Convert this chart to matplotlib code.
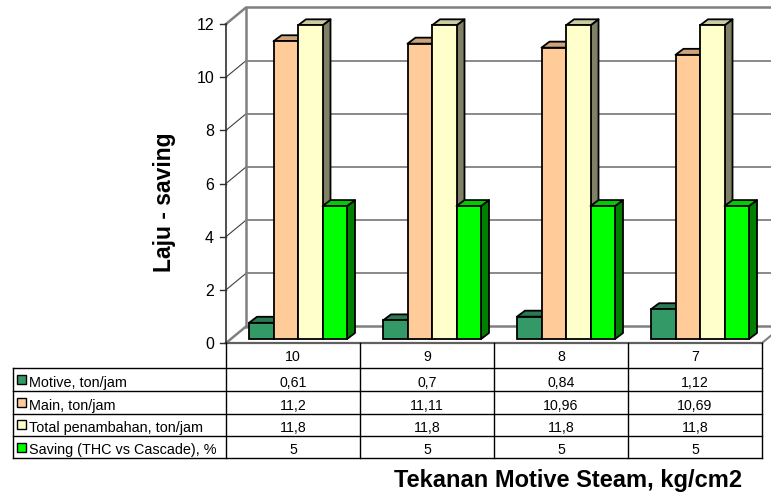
import matplotlib
matplotlib.use("Agg")
import matplotlib.pyplot as plt
from matplotlib.patches import Polygon, Rectangle
from matplotlib.lines import Line2D

plt.rcParams['font.family'] = ['Liberation Sans', 'DejaVu Sans']

# ---- data ----
categories = ["10", "9", "8", "7"]
series_names = ["Motive, ton/jam", "Main, ton/jam",
                "Total penambahan, ton/jam", "Saving (THC vs Cascade), %"]
motive = [0.61, 0.7, 0.84, 1.12]
main = [11.2, 11.11, 10.96, 10.69]
total = [11.8, 11.8, 11.8, 11.8]
saving = [5, 5, 5, 5]
y_ticks = [0, 2, 4, 6, 8, 10, 12]

series = [motive, main, total, saving]
front_colors = ["#339966", "#FFCC99", "#FFFFCC", "#00FF00"]
top_colors = ["#297A52", "#CCA37A", "#CCCCA3", "#00CC00"]
side_colors = ["#1A4D33", "#80664D", "#808066", "#008000"]

W, H = 771, 492
fig = plt.figure(figsize=(W / 100, H / 100), dpi=100)
fig.patch.set_facecolor("white")

def fx(x):
    return x / W

def fy(y):
    return 1 - y / H

# plot region (front plane)
X0, X1, Y0, Y12 = 226, 762, 343, 24
ax = fig.add_axes([fx(X0), fy(Y0), (X1 - X0) / W, (Y0 - Y12) / H])
ncat = len(categories)
ymax = y_ticks[-1]
ax.set_xlim(0, ncat)
ax.set_ylim(0, ymax)
ax.axis("off")

PX = ncat / (X1 - X0)
PY = ymax / (Y0 - Y12)

# depth of walls / bars in pixels converted to data units
WDX, WDY = 20 * PX, 16.5 * PY
BSX, BSY = 5 * PX, 4 * PY
BDX, BDY = 8 * PX, 6 * PY
BW = 24.5 * PX

wall_gray = "#808080"
# walls and floor
ax.add_patch(Polygon([(WDX, WDY), (ncat + WDX, WDY), (ncat + WDX, ymax + WDY), (WDX, ymax + WDY)],
                     closed=True, facecolor="white", edgecolor="none", clip_on=False, zorder=1))
ax.add_patch(Polygon([(0, 0), (WDX, WDY), (WDX, ymax + WDY), (0, ymax)],
                     closed=True, facecolor="white", edgecolor="none", clip_on=False, zorder=1))

for v in y_ticks[1:-1]:
    ax.plot([0, WDX], [v, v + WDY], color="#404040", lw=0.8, clip_on=False, zorder=2)
    ax.plot([WDX, ncat + WDX], [v + WDY, v + WDY], color=wall_gray, lw=1.3, clip_on=False, zorder=2)

# wall borders
ax.plot([0, WDX, ncat + WDX], [ymax, ymax + WDY, ymax + WDY], color=wall_gray, lw=1.8,
        clip_on=False, zorder=2)
ax.plot([WDX, WDX], [WDY, ymax + WDY], color=wall_gray, lw=1.8, clip_on=False, zorder=2)
# floor edges
ax.plot([0, WDX, ncat + WDX], [0, WDY, WDY], color=wall_gray, lw=1.8, clip_on=False, zorder=2)
ax.plot([ncat, ncat + WDX], [0, WDY], color=wall_gray, lw=1.5, clip_on=False, zorder=2)
ax.plot([0, ncat], [0, 0], color="#606060", lw=1.6, clip_on=False, zorder=2)

# value axis
ax.plot([0, 0], [0, ymax], color="#303030", lw=1.2, clip_on=False, zorder=3)
for v in y_ticks:
    ax.plot([-6 * PX, 0], [v, v], color="#303030", lw=1.0, clip_on=False, zorder=3)
    ax.text(-12 * PX, v, str(v), ha="right", va="center_baseline", fontsize=11.5, color="black")

# 3D bars
z = 10
for i in range(ncat):
    left0 = i + 0.5 - 2 * BW + BSX
    for s, vals in enumerate(series):
        v = vals[i]
        xl = left0 + s * BW
        top = BSY + v
        side = Polygon([(xl + BW, BSY), (xl + BW + BDX, BSY + BDY),
                        (xl + BW + BDX, top + BDY), (xl + BW, top)],
                       closed=True, facecolor=side_colors[s], edgecolor="black",
                       lw=1.3, joinstyle="round", clip_on=False, zorder=z)
        ax.add_patch(side)
        topf = Polygon([(xl, top), (xl + BW, top), (xl + BW + BDX, top + BDY), (xl + BDX, top + BDY)],
                       closed=True, facecolor=top_colors[s], edgecolor="black",
                       lw=1.3, joinstyle="round", clip_on=False, zorder=z + 1)
        ax.add_patch(topf)
        ax.bar(xl, v, width=BW, bottom=BSY, align="edge", color=front_colors[s],
               edgecolor="black", linewidth=1.3, zorder=z + 2, clip_on=False)
        z += 3

# ---- data table ----
def hline(y, x0, x1, lw=1.0, color="black"):
    fig.add_artist(Line2D([fx(x0), fx(x1)], [fy(y), fy(y)], color=color, lw=lw,
                          transform=fig.transFigure))

def vline(x, y0, y1, lw=1.0, color="black"):
    fig.add_artist(Line2D([fx(x), fx(x)], [fy(y0), fy(y1)], color=color, lw=lw,
                          transform=fig.transFigure))

TL = 13
LFS = 10.4   # series labels
NFS = 10.2   # numbers
col_edges = [X0 + (X1 - X0) * k / ncat for k in range(ncat + 1)]
row_edges = [343, 368, 390.5, 413.5, 436, 458]

for y in row_edges[1:]:
    hline(y, TL, X1)
vline(TL, row_edges[1], row_edges[-1])
for x in col_edges:
    vline(x, row_edges[0], row_edges[-1])

for k, c in enumerate(categories):
    fig.text(fx((col_edges[k] + col_edges[k + 1]) / 2), fy(row_edges[1] - 7),
             c, ha="center", va="baseline", fontsize=NFS)

def fmt(v):
    return f"{v:g}".replace(".", ",")

for s, vals in enumerate(series):
    yb = row_edges[s + 2] - 3.8
    yc = (row_edges[s + 1] + row_edges[s + 2]) / 2
    fig.add_artist(Rectangle((fx(16.5), fy(yc + 4.5)), 9 / W, 9 / H, transform=fig.transFigure,
                             facecolor=front_colors[s], edgecolor="black", lw=1.0))
    fig.text(fx(29), fy(yb), series_names[s], ha="left", va="baseline", fontsize=LFS)
    for k in range(ncat):
        fig.text(fx((col_edges[k] + col_edges[k + 1]) / 2), fy(yb), fmt(vals[k]),
                 ha="center", va="baseline", fontsize=NFS)

# axis titles
fig.text(fx(568), fy(487), "Tekanan Motive Steam, kg/cm2", ha="center", va="baseline",
         fontsize=17, fontweight="bold")
fig.text(fx(164), fy(202), "Laju - saving", ha="center", va="center", rotation=90,
         fontsize=16.5, fontweight="bold")

fig.savefig("out.png", dpi=100, facecolor="white")
